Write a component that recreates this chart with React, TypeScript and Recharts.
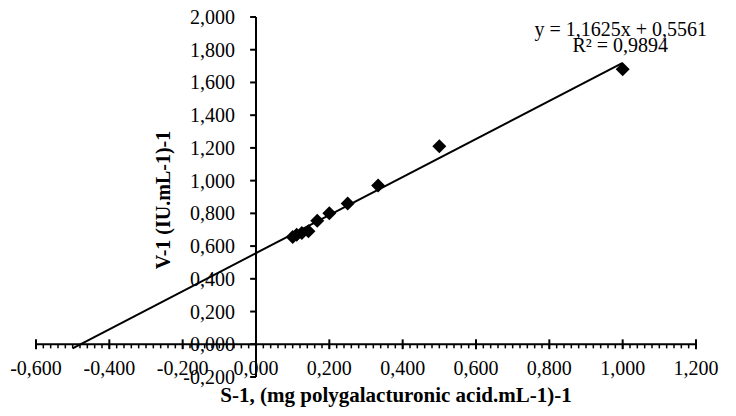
import { ScatterChart, Scatter, XAxis, YAxis, ReferenceLine } from 'recharts'

const xTickValues = [-0.6, -0.4, -0.2, 0, 0.2, 0.4, 0.6, 0.8, 1.0, 1.2]
const xTickLabels = ['-0,600', '-0,400', '-0,200', '0,000', '0,200', '0,400', '0,600', '0,800', '1,000', '1,200']
const yTickValues = [-0.2, 0, 0.2, 0.4, 0.6, 0.8, 1.0, 1.2, 1.4, 1.6, 1.8, 2.0]
const yTickLabels = ['-0,200', '0,000', '0,200', '0,400', '0,600', '0,800', '1,000', '1,200', '1,400', '1,600', '1,800', '2,000']

// S-1 and V-1 values
const sValues = [0.1, 0.111, 0.125, 0.143, 0.167, 0.2, 0.25, 0.333, 0.5, 1.0]
const vValues = [0.655, 0.67, 0.68, 0.69, 0.755, 0.8, 0.86, 0.97, 1.21, 1.68]

// linear trendline end points
const trendX = [-0.5, 1.0]
const trendY = [-0.025, 1.72]

const FONT = '"Liberation Serif", "Times New Roman", serif'

const points = sValues.map((s, i) => ({ x: s, y: vValues[i] }))
const trend = trendX.map((x, i) => ({ x, y: trendY[i] }))
const xTicks = xTickValues.map((v, i) => ({ x: v, y: 0, label: xTickLabels[i] }))
const yTicks = yTickValues.map((v, i) => ({ x: 0, y: v, label: yTickLabels[i] }))
const xMinor: number[] = []
for (let i = 0; i <= 90; i++) xMinor.push(Math.round((-0.6 + i * 0.02) * 1000) / 1000)

const Diamond = (p: any) => (
  <polygon
    points={`${p.cx},${p.cy - 7} ${p.cx + 7},${p.cy} ${p.cx},${p.cy + 7} ${p.cx - 7},${p.cy}`}
    fill="#000"
  />
)

const XLabel = (p: any) => (
  <text x={p.cx} y={p.cy + 31} textAnchor="middle" fontFamily={FONT} fontSize={20} fill="#000">
    {p.payload.label}
  </text>
)

const YLabel = (p: any) => (
  <text x={p.cx - 21} y={p.cy + 7} textAnchor="end" fontFamily={FONT} fontSize={20} fill="#000">
    {p.payload.label}
  </text>
)

export default function App() {
  return (
    <div style={{ position: 'absolute', left: 0, top: 0, width: 736, height: 416, background: '#fff' }}>
      <ScatterChart width={736} height={416} margin={{ top: 17, right: 40, bottom: 39, left: 36 }}>
        <XAxis type="number" dataKey="x" domain={[-0.6, 1.2]} hide />
        <YAxis type="number" dataKey="y" domain={[-0.2, 2.0]} hide />
        <ReferenceLine y={0} stroke="#000" strokeWidth={2} />
        <ReferenceLine x={0} stroke="#000" strokeWidth={2} />
        {xMinor.map((v) => (
          <ReferenceLine
            key={`mn-${v}`}
            segment={[{ x: v, y: 0 }, { x: v, y: -0.025 }]}
            ifOverflow="visible"
            stroke="#000"
            strokeWidth={1.5}
          />
        ))}
        {xTickValues.map((v) => (
          <ReferenceLine
            key={`mx-${v}`}
            segment={[{ x: v, y: 0.03 }, { x: v, y: -0.03 }]}
            ifOverflow="visible"
            stroke="#000"
            strokeWidth={2}
          />
        ))}
        {yTickValues.map((v) => (
          <ReferenceLine
            key={`my-${v}`}
            segment={[{ x: -0.016, y: v }, { x: 0, y: v }]}
            ifOverflow="visible"
            stroke="#000"
            strokeWidth={2}
          />
        ))}
        <Scatter data={xTicks} shape={XLabel} isAnimationActive={false} />
        <Scatter data={yTicks} shape={YLabel} isAnimationActive={false} />
        <Scatter
          data={trend}
          line={{ stroke: '#000', strokeWidth: 2 }}
          shape={() => <g />}
          isAnimationActive={false}
        />
        <Scatter data={points} shape={Diamond} isAnimationActive={false} />
      </ScatterChart>
      <svg width={736} height={416} style={{ position: 'absolute', left: 0, top: 0, pointerEvents: 'none' }}>
        <text x={707} y={36} textAnchor="end" fontFamily={FONT} fontSize={20}>
          y = 1,1625x + 0,5561
        </text>
        <text x={668} y={52} textAnchor="end" fontFamily={FONT} fontSize={20}>
          R² = 0,9894
        </text>
        <text x={396} y={402} textAnchor="middle" fontFamily={FONT} fontSize={21} fontWeight="bold">
          S-1, (mg polygalacturonic acid.mL-1)-1
        </text>
        <text
          x={170}
          y={200}
          textAnchor="middle"
          fontFamily={FONT}
          fontSize={20}
          fontWeight="bold"
          transform="rotate(-90 170 200)"
        >
          V-1 (IU.mL-1)-1
        </text>
      </svg>
    </div>
  )
}
